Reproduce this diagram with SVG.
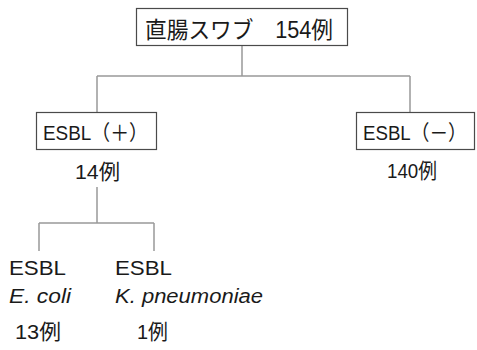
<svg xmlns="http://www.w3.org/2000/svg" width="477" height="350" viewBox="0 0 477 350">
<style>
.box{fill:#fff;stroke:#4a4a4a;stroke-width:1.2}
.ln{fill:none;stroke:#999;stroke-width:1.5}
text{font-family:"Liberation Sans","Noto Sans CJK JP",sans-serif;fill:#1a1a1a;font-size:21px}
.t{font-size:23px}
.it{font-style:italic;font-size:20px}
</style>
<rect width="477" height="350" fill="#fff"/>
<g id="connectors">
<path class="ln" d="M242 45V76M97 76H410M97 76V112M410 76V112"/>
<path class="ln" d="M97 187V223M39 223H154M39 223V251M154 223V251"/>
</g>
<g id="root">
<rect class="box" x="136.5" y="8.5" width="211" height="37"/>
<text class="t" x="145" y="38" textLength="188" lengthAdjust="spacingAndGlyphs">直腸スワブ　154例</text>
</g>
<g id="esbl-pos">
<rect class="box" x="36.5" y="112.5" width="120" height="37"/>
<text x="43" y="140" textLength="105" lengthAdjust="spacingAndGlyphs">ESBL（＋）</text>
<text x="75" y="179" textLength="45" lengthAdjust="spacingAndGlyphs">14例</text>
</g>
<g id="esbl-neg">
<rect class="box" x="356.5" y="112.5" width="118" height="37"/>
<text transform="translate(363 140) scale(0.89 1)">ESBL（－）</text>
<text x="387" y="178" textLength="50" lengthAdjust="spacingAndGlyphs">140例</text>
</g>
<g id="ecoli">
<text x="9" y="275" textLength="57" lengthAdjust="spacingAndGlyphs">ESBL</text>
<text class="it" x="9" y="303" textLength="62" lengthAdjust="spacingAndGlyphs">E. coli</text>
<text x="15" y="339" textLength="46" lengthAdjust="spacingAndGlyphs">13例</text>
</g>
<g id="kpneu">
<text x="115" y="275" textLength="57" lengthAdjust="spacingAndGlyphs">ESBL</text>
<text class="it" x="115" y="303" textLength="148" lengthAdjust="spacingAndGlyphs">K. pneumoniae</text>
<text x="137" y="339" textLength="31" lengthAdjust="spacingAndGlyphs">1例</text>
</g>
</svg>
